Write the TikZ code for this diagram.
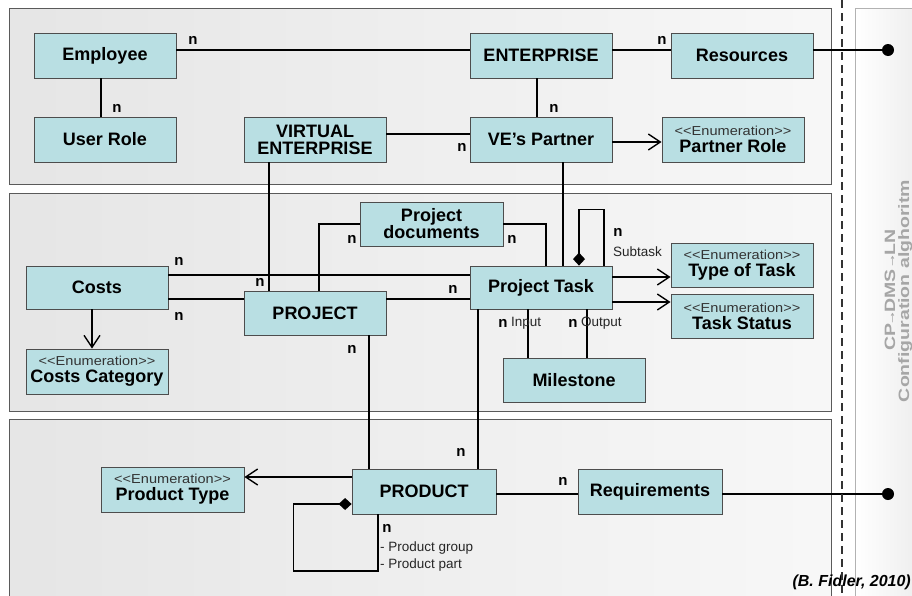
\documentclass[tikz,border=0pt]{standalone}
\usepackage{fontspec}
\setmainfont{Liberation Sans}
\newfontfamily\enumfont[FakeStretch=1.12]{Liberation Sans}
\newfontfamily\sidefont[FakeStretch=1.3]{Liberation Sans}
\newfontfamily\sidearrow[FakeStretch=1.6]{DejaVu Sans}
\usetikzlibrary{arrows.meta}
\definecolor{boxfill}{HTML}{B9DFE3}
\definecolor{boxline}{HTML}{4D4D4D}
\definecolor{panelline}{HTML}{5A5A5A}
\definecolor{sidetext}{HTML}{A6A6A6}
\tikzset{
  entity/.style={draw=boxline, line width=0.8pt, fill=boxfill, minimum width=142pt,
    minimum height=45pt, inner sep=0pt, align=center,
    font=\bfseries\fontsize{18}{17}\selectfont},
  panel/.style={draw=panelline, line width=0.8pt, left color=gray!20, right color=gray!6},
  sidepanel/.style={draw=gray!60, line width=0.8pt, left color=white, right color=gray!14},
  conn/.style={line width=1.6pt, black},
  openarrow/.style={conn, -{Straight Barb[length=12pt,width=16pt,line width=1.4pt]}},
  diam/.style={conn, {Diamond[length=13pt,width=12pt]}-},
  nlab/.style={inner sep=0pt, font=\bfseries\fontsize{15}{15}\selectfont},
  slab/.style={inner sep=0pt, font=\fontsize{13.5}{17}\selectfont, text=black!85},
  sidelab/.style={rotate=90, anchor=base, inner sep=0pt, text=sidetext,
    font=\sidefont\bfseries\fontsize{15}{15}\selectfont},
  dotn/.style={circle, fill=black, minimum size=12pt, inner sep=0pt},
}
\newcommand{\enumline}{{\enumfont\mdseries\fontsize{13}{13}\selectfont\color{black!80}<{}<Enumeration>{}>}}
\newcommand{\sarr}{{\sidearrow\mdseries\fontsize{8}{8}\selectfont →}}
\begin{document}
\begin{tikzpicture}[x=1pt,y=-1pt]
\useasboundingbox (0,0) rectangle (912,595);
% panels
\draw[panel] (9,8) rectangle (831,184);
\draw[panel] (9,193) rectangle (831,411);
\draw[panel] (9,419) rectangle (831,602);
\draw[sidepanel] (855,8) rectangle (920,602);
% sidebar text
\node[sidelab] (side1) at (895,290) {CP\sarr DMS\,\sarr LN};
\node[sidelab] (side2) at (909,291) {Configuration alghoritm};
% entities
\node[entity] (emp) at (105,55.5) {Employee};
\node[entity] (role) at (105,139.5) {User Role};
\node[entity] (ve) at (315,139.5) {VIRTUAL\\ENTERPRISE};
\node[entity] (ent) at (541,55.5) {ENTERPRISE};
\node[entity] (res) at (742,55.5) {Resources};
\node[entity] (vep) at (541,139.5) {VE's Partner};
\node[entity] (prole) at (733,139.5) {\enumline\\Partner Role};
\node[entity, minimum height=43pt] (costs) at (97,287.5) {Costs};
\node[entity] (ccat) at (97,371.5) {\enumline\\Costs Category};
\node[entity, minimum height=44pt] (proj) at (315,313) {PROJECT};
\node[entity, minimum width=143pt, minimum height=44pt] (pdoc) at (431.5,224) {Project\\documents};
\node[entity, minimum height=43pt] (ptask) at (541,287.5) {Project Task};
\node[entity, minimum height=44pt] (tot) at (742,265) {\enumline\\Type of Task};
\node[entity, minimum height=44pt] (tst) at (742,316) {\enumline\\Task Status};
\node[entity, minimum height=44pt] (mile) at (574,380) {Milestone};
\node[entity, minimum width=143pt] (ptype) at (172.5,489.5) {\enumline\\Product Type};
\node[entity, minimum width=144pt] (prod) at (424,491.5) {PRODUCT};
\node[entity, minimum width=144pt] (req) at (650,491.5) {Requirements};
% end dots
\node[dotn] (d1) at (888,50) {};
\node[dotn] (d2) at (888,494) {};
% connectors top
\draw[conn] ([yshift=5.5pt]emp.east) -- ([yshift=5.5pt]ent.west);
\draw[conn] ([yshift=5.5pt]ent.east) -- ([yshift=5.5pt]res.west);
\draw[conn] ([yshift=5.5pt]res.east) -- (d1);
\draw[conn] ([xshift=-4pt]emp.south) -- ([xshift=-4pt]role.north);
\draw[conn] ([yshift=5.5pt]ve.east) -- ([yshift=5.5pt]vep.west);
\draw[conn] ([xshift=-4pt]ent.south) -- ([xshift=-4pt]vep.north);
\draw[openarrow] ([yshift=-2.5pt]vep.east) -- ([yshift=-2.5pt]prole.west);
\draw[conn] ([xshift=-46pt]ve.south) -- ([xshift=-46pt]proj.north);
\draw[conn] ([xshift=22pt]vep.south) -- ([xshift=22pt]ptask.north);
% middle
\draw[openarrow] ([xshift=-5pt]costs.south) -- ([xshift=-5pt]ccat.north);
\draw[conn] ([yshift=12.5pt]costs.east) -- ([yshift=12.5pt]ptask.west);
\draw[conn] ([yshift=-11.5pt]costs.east) -- ([yshift=14pt]proj.west);
\draw[conn] ([yshift=14pt]proj.east) -- ([yshift=-11.5pt]ptask.west);
\draw[conn] ([xshift=4pt]proj.north) |- (pdoc.west);
\draw[conn] (pdoc.east) -| ([xshift=5pt]ptask.north);
\draw[diam] ([xshift=38pt]ptask.north) -- ++(0,-56) -| ([xshift=63pt]ptask.north);
\draw[openarrow] ([yshift=10.5pt]ptask.east) -- ([yshift=-12pt]tot.west);
\draw[openarrow] ([yshift=-14.5pt]ptask.east) -- ([yshift=14pt]tst.west);
\draw[conn] ([xshift=-13pt]ptask.south) -- ([xshift=-46pt]mile.north);
\draw[conn] ([xshift=46pt]ptask.south) -- ([xshift=13pt]mile.north);
\draw[openarrow] ([yshift=14.5pt]prod.west) -- ([yshift=12.5pt]ptype.east);
% bottom
\draw[conn] ([xshift=-63pt]ptask.south) -- ([xshift=54pt]prod.north);
\draw[conn] ([xshift=54pt]proj.south) -- ([xshift=-55pt]prod.north);
\draw[diam] ([yshift=-12.5pt]prod.west) -- ++(-58,0) -- ++(0,67) -| ([xshift=-46pt]prod.south);
\draw[conn] ([yshift=-2.5pt]prod.east) -- ([yshift=-2.5pt]req.west);
\draw[conn] ([yshift=-2.5pt]req.east) -- (d2);
% multiplicity labels
\node[nlab] (n1) at (193,40) {n};
\node[nlab] (n2) at (662,40) {n};
\node[nlab] (n3) at (117,108) {n};
\node[nlab] (n4) at (554,108) {n};
\node[nlab] (n5) at (462,147) {n};
\node[nlab] (n6) at (179,261) {n};
\node[nlab] (n7) at (179,316) {n};
\node[nlab] (n8) at (260,282) {n};
\node[nlab] (n9) at (453,289) {n};
\node[nlab] (n10) at (352,239) {n};
\node[nlab] (n11) at (512,239) {n};
\node[nlab] (n12) at (618,232) {n};
\node[slab, anchor=west] (sub) at (613,252) {Subtask};
\node[nlab] (n13) at (503,323) {n};
\node[slab, anchor=west] (inp) at (511,323) {Input};
\node[nlab] (n14) at (573,323) {n};
\node[slab, anchor=west] (outp) at (581,323) {Output};
\node[nlab] (n15) at (352,349) {n};
\node[nlab] (n16) at (461,452) {n};
\node[nlab] (n17) at (563,481) {n};
\node[nlab] (n18) at (387,528) {n};
\node[slab, anchor=west, align=left] (pg) at (380,556.5) {- Product group\\- Product part};
% credit
\node[inner sep=0pt, anchor=east, font=\bfseries\itshape\fontsize{16}{16}\selectfont] (cred) at (911,582) {(B. Fidler, 2010)};
% dashed separator
\coordinate (s1) at (842,0);
\coordinate (s2) at (842,595);
\draw[line width=1.6pt, black!80, dash pattern=on 8pt off 5pt] (s1) -- (s2);
\end{tikzpicture}
\end{document}
